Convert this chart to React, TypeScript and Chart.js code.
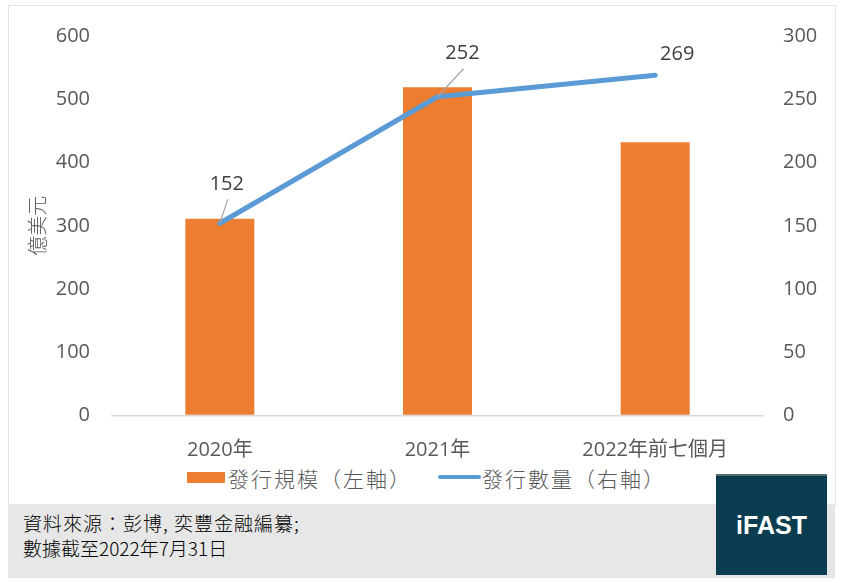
import React, { useEffect, useRef } from "react";
import { Chart, registerables } from "chart.js";

Chart.register(...registerables);

const categories = ["2020年", "2021年", "2022年前七個月"];
const issueSize = [311, 519, 432]; // 發行規模（左軸）億美元
const issueCount = [152, 252, 269]; // 發行數量（右軸）
const leftTicks = [0, 100, 200, 300, 400, 500, 600];
const rightTicks = [0, 50, 100, 150, 200, 250, 300];
const seriesNames = ["發行規模（左軸）", "發行數量（右軸）"];
const axisTitle = "億美元";
const sourceLines = ["資料來源：彭博, 奕豐金融編纂;", "數據截至2022年7月31日"];

// label placement for the line's data labels (offset from point, px)
const labelOffsets = [
  { dx: 7, dy: -39, leader: true },
  { dx: 25, dy: -43, leader: true },
  { dx: 22, dy: -21, leader: false },
];
const footerSpacing = [1, 0];

const ORANGE = "#ed7d31";
const BLUE = "#5b9bd5";
const TEXT = "#595959";
const NUM_FONT = "'Open Sans', 'Noto Sans CJK TC', sans-serif";
const CJK_FONT = "'Noto Sans CJK TC', 'Open Sans', sans-serif";

const labelPlugin = {
  id: "lineLabels",
  afterDatasetsDraw(chart: any) {
    const meta = chart.getDatasetMeta(1);
    const ctx = chart.ctx;
    ctx.save();
    meta.data.forEach((pt: any, i: number) => {
      const off = labelOffsets[i];
      const lx = pt.x + off.dx;
      const ly = pt.y + off.dy;
      if (off.leader) {
        ctx.strokeStyle = "#a6a6a6";
        ctx.lineWidth = 1.2;
        ctx.beginPath();
        ctx.moveTo(lx + 1, ly + 15);
        ctx.lineTo(pt.x, pt.y);
        ctx.stroke();
      }
      ctx.fillStyle = "#404040";
      ctx.font = `20px ${NUM_FONT}`;
      ctx.textAlign = "center";
      ctx.textBaseline = "middle";
      ctx.fillText(String(issueCount[i]), lx, ly);
    });
    ctx.restore();
  },
};

function ChartCanvas() {
  const ref = useRef<HTMLCanvasElement | null>(null);
  useEffect(() => {
    if (!ref.current) return;
    const chart = new Chart(ref.current, {
      data: {
        labels: categories,
        datasets: [
          {
            type: "bar",
            label: seriesNames[0],
            data: issueSize,
            backgroundColor: ORANGE,
            yAxisID: "y",
            categoryPercentage: 1,
            barPercentage: 0.317,
            order: 2,
          },
          {
            type: "line",
            label: seriesNames[1],
            data: issueCount,
            borderColor: BLUE,
            backgroundColor: BLUE,
            borderWidth: 5,
            borderCapStyle: "round",
            borderJoinStyle: "round",
            pointRadius: 0,
            tension: 0,
            yAxisID: "y1",
            order: 1,
          },
        ],
      } as any,
      options: {
        responsive: false,
        animation: false,
        devicePixelRatio: 1,
        layout: { padding: { top: 36, left: 0, right: 0, bottom: 0 } },
        plugins: {
          legend: { display: false },
          tooltip: { enabled: false },
        },
        scales: {
          x: {
            type: "category",
            grid: { display: false },
            border: { display: false },
            ticks: {
              color: TEXT,
              font: { family: NUM_FONT, size: 20 },
              padding: 15,
              maxRotation: 0,
            },
            afterFit: (s: any) => {
              s.height = 44.4;
            },
          },
          y: {
            position: "left",
            min: 0,
            max: 600,
            afterBuildTicks: (s: any) => {
              s.ticks = leftTicks.map((v) => ({ value: v }));
            },
            grid: {
              drawTicks: false,
              color: (c: any) => (c.tick && c.tick.value === 0 ? "#d9d9d9" : "rgba(0,0,0,0)"),
              lineWidth: 1.5,
            },
            border: { display: false },
            ticks: {
              color: TEXT,
              font: { family: NUM_FONT, size: 20 },
              padding: 21,
            },
            title: {
              display: true,
              text: axisTitle,
              color: TEXT,
              font: { family: CJK_FONT, size: 20, weight: "300" },
              padding: { top: 25, bottom: 0 },
            },
            afterFit: (s: any) => {
              s.width = 111;
            },
          },
          y1: {
            position: "right",
            min: 0,
            max: 300,
            afterBuildTicks: (s: any) => {
              s.ticks = rightTicks.map((v) => ({ value: v }));
            },
            grid: { display: false, drawTicks: false },
            border: { display: false },
            ticks: {
              color: TEXT,
              font: { family: NUM_FONT, size: 20 },
              padding: 19,
            },
            afterFit: (s: any) => {
              s.width = 77;
            },
          },
        },
      } as any,
      plugins: [labelPlugin],
    });
    return () => chart.destroy();
  }, []);
  return (
    <canvas
      ref={ref}
      width={841}
      height={460}
      style={{ position: "absolute", left: 0, top: 0, width: 841, height: 460 }}
    />
  );
}

const legendText: React.CSSProperties = {
  position: "absolute",
  top: 466,
  height: 24,
  lineHeight: "24px",
  fontFamily: CJK_FONT,
  fontSize: 21,
  fontWeight: 300,
  letterSpacing: 2,
  color: TEXT,
  whiteSpace: "nowrap",
};

export default function App() {
  return (
    <div
      style={{
        position: "absolute",
        left: 0,
        top: 0,
        width: 841,
        height: 583,
        background: "#fff",
        overflow: "hidden",
      }}
    >
      {/* chart frame */}
      <div
        style={{
          position: "absolute",
          left: 8,
          top: 5,
          width: 826,
          height: 500,
          borderTop: "1.5px solid #e3e3e3",
          borderLeft: "1.5px solid #e3e3e3",
          borderRight: "1.5px solid #e3e3e3",
        }}
      />
      <ChartCanvas />
      {/* legend */}
      <div style={{ position: "absolute", left: 187, top: 472, width: 38, height: 11, background: ORANGE }} />
      <div style={{ ...legendText, left: 228 }}>{seriesNames[0]}</div>
      <div
        style={{
          position: "absolute",
          left: 438,
          top: 475,
          width: 43,
          height: 4,
          borderRadius: 2,
          background: BLUE,
        }}
      />
      <div style={{ ...legendText, left: 482 }}>{seriesNames[1]}</div>
      {/* footer */}
      <div
        style={{
          position: "absolute",
          left: 8,
          top: 504,
          width: 827,
          height: 74,
          background: "#e7e7e7",
        }}
      />
      <div
        style={{
          position: "absolute",
          left: 23,
          top: 510,
          fontFamily: CJK_FONT,
          fontSize: 19,
          fontWeight: 300,
          lineHeight: "25px",
          color: "#000",
          whiteSpace: "nowrap",
        }}
      >
        {sourceLines.map((l, i) => (
          <div key={i} style={{ letterSpacing: footerSpacing[i] }}>
            {l}
          </div>
        ))}
      </div>
      <div
        style={{
          position: "absolute",
          left: 716,
          top: 474,
          width: 111,
          height: 101,
          background: "#0b3d51",
          borderTop: "2px solid #5a6a72",
          boxSizing: "border-box",
          display: "flex",
          alignItems: "center",
          justifyContent: "center",
          color: "#fff",
          fontFamily: "'Liberation Sans', Arial, sans-serif",
          fontWeight: 700,
          fontSize: 25,
        }}
      >
        iFAST
      </div>
    </div>
  );
}
